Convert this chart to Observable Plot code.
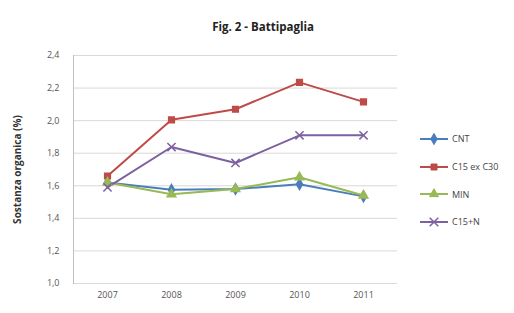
<!DOCTYPE html>
<html><head><meta charset="utf-8">
<script src="https://cdn.jsdelivr.net/npm/d3@7"></script>
<script src="https://cdn.jsdelivr.net/npm/@observablehq/plot@0.6"></script>
<style>
body{margin:0;background:#fff;font-family:"Open Sans",sans-serif;}
#wrap{position:relative;width:514px;height:313px;}
#title{position:absolute;left:0;width:526px;top:19px;text-align:center;font-weight:bold;font-size:11.5px;color:#222;}
#legend{position:absolute;left:418px;top:125px;font-size:9px;color:#444;}
#legend div{display:flex;align-items:center;height:27.7px;}
#legend svg{margin-right:2px;}
</style></head>
<body><div id="wrap"><div id="title">Fig. 2 - Battipaglia</div><div id="legend"></div></div>
<script>
const years = ["2007","2008","2009","2010","2011"];
const seriesNames = ["CNT","C15 ex C30","MIN","C15+N"];
const cnt = [1.62,1.575,1.58,1.61,1.535];
const c15exc30 = [1.66,2.005,2.07,2.235,2.115];
const minv = [1.62,1.548,1.58,1.652,1.54];
const c15n = [1.59,1.838,1.74,1.91,1.91];
const yTicks = [1.0,1.2,1.4,1.6,1.8,2.0,2.2,2.4];

const colors = ["#4a7ebb","#be4b48","#98b954","#7d60a0"];
const symbols = ["diamond","square","triangle","times"];
const allVals = [cnt,c15exc30,minv,c15n];
const data = [];
allVals.forEach((vals,si)=>vals.forEach((v,i)=>data.push({series:seriesNames[si],year:years[i],value:v})));
const filled = data.filter(d=>d.series!=="C15+N");
const crosses = data.filter(d=>d.series==="C15+N");

const fmt = d => d.toFixed(1).replace(".",",");
const plot = Plot.plot({
  width:514,height:313,
  marginLeft:73,marginRight:117,marginTop:55,marginBottom:30,
  style:{fontFamily:"Open Sans, sans-serif",fontSize:"9px",color:"#555"},
  x:{type:"point",domain:years,padding:0.5,label:null},
  y:{domain:[1.0,2.4]},
  color:{domain:seriesNames,range:colors},
  symbol:{domain:seriesNames,range:symbols},
  marks:[
    Plot.gridY(yTicks,{stroke:"#d9d9d9",strokeOpacity:1,strokeWidth:1}),
    Plot.frame({anchor:"left",stroke:"#bfbfbf"}),
    Plot.axisX({tickSize:0,tickPadding:8,label:null,fontSize:9}),
    Plot.axisY({ticks:yTicks,tickFormat:fmt,tickSize:0,tickPadding:14,fontSize:9,label:null}),
    Plot.text(["Sostanza organica (%)"],{frameAnchor:"left",textAnchor:"middle",rotate:-90,dx:-56,fontSize:10,fontWeight:"bold",fill:"#333"}),
    Plot.line(data,{x:"year",y:"value",z:"series",stroke:"series",strokeWidth:2}),
    Plot.dot(filled,{x:"year",y:"value",symbol:"series",fill:"series",stroke:"series",r:3.2}),
    Plot.dot(crosses,{x:"year",y:"value",symbol:"series",stroke:"series",strokeWidth:1.5,r:3.8}),
  ]
});
document.getElementById("wrap").appendChild(plot);

const leg = document.getElementById("legend");
seriesNames.forEach((name,i)=>{
  const row = document.createElement("div");
  const sym = d3.symbol(i===0?d3.symbolDiamond:i===1?d3.symbolSquare:i===2?d3.symbolTriangle:d3.symbolTimes, i===3?50:36)();
  const isCross = i===3;
  row.innerHTML = `<svg width="32" height="12"><line x1="2" x2="30" y1="6" y2="6" stroke="${colors[i]}" stroke-width="2"/>`+
    `<path transform="translate(16,6)" d="${sym}" fill="${isCross?"none":colors[i]}" stroke="${colors[i]}" stroke-width="${isCross?1.5:1}"/></svg><span>${name}</span>`;
  leg.appendChild(row);
});
</script></body></html>
